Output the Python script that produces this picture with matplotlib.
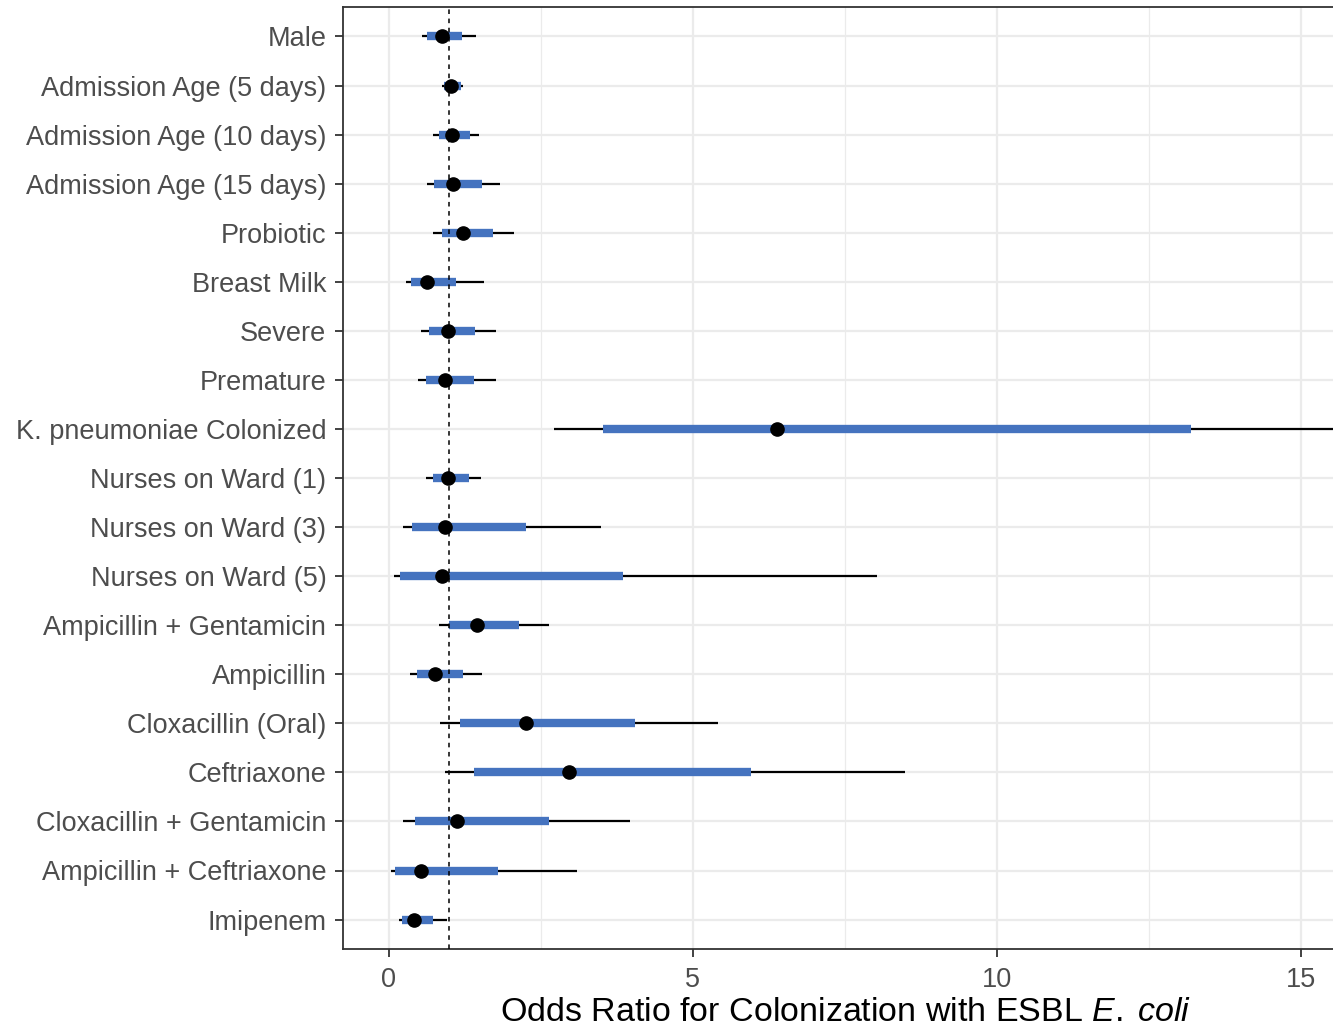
import matplotlib
matplotlib.use("Agg")
import matplotlib.pyplot as plt
from matplotlib.ticker import MultipleLocator

plt.rcParams['font.family'] = ['Liberation Sans', 'DejaVu Sans']
plt.rcParams['mathtext.fontset'] = 'custom'
plt.rcParams['mathtext.rm'] = 'Liberation Sans'
plt.rcParams['mathtext.it'] = 'Liberation Sans:italic'

categories = ["Male", "Admission Age (5 days)", "Admission Age (10 days)",
              "Admission Age (15 days)", "Probiotic", "Breast Milk", "Severe",
              "Premature", "K. pneumoniae Colonized", "Nurses on Ward (1)",
              "Nurses on Ward (3)", "Nurses on Ward (5)", "Ampicillin + Gentamicin",
              "Ampicillin", "Cloxacillin (Oral)", "Ceftriaxone",
              "Cloxacillin + Gentamicin", "Ampicillin + Ceftriaxone", "Imipenem"]
point = [0.87, 1.03, 1.04, 1.06, 1.22, 0.63, 0.98, 0.92, 6.38, 0.98,
         0.93, 0.88, 1.46, 0.77, 2.25, 2.96, 1.13, 0.54, 0.41]
inner_lo = [0.63, 0.91, 0.82, 0.75, 0.87, 0.37, 0.66, 0.61, 3.53, 0.73,
            0.38, 0.19, 1.00, 0.47, 1.18, 1.40, 0.44, 0.10, 0.22]
inner_hi = [1.20, 1.19, 1.33, 1.53, 1.72, 1.11, 1.42, 1.40, 13.19, 1.32,
            2.25, 3.85, 2.14, 1.23, 4.05, 5.95, 2.64, 1.80, 0.73]
outer_lo = [0.55, 0.87, 0.73, 0.63, 0.73, 0.29, 0.54, 0.48, 2.72, 0.62,
            0.23, 0.09, 0.82, 0.35, 0.84, 0.92, 0.24, 0.04, 0.17]
outer_hi = [1.44, 1.23, 1.49, 1.83, 2.06, 1.56, 1.77, 1.76, 25.0, 1.52,
            3.49, 8.02, 2.64, 1.54, 5.41, 8.48, 3.97, 3.10, 0.96]
ref_line = 1
xticks = [0, 5, 10, 15]

W, H = 1333, 1026
fig = plt.figure(figsize=(W / 100, H / 100), dpi=100)
left, right, top, bottom = 343, 1347, 7, 949
ax = fig.add_axes([left / W, 1 - bottom / H, (right - left) / W, (bottom - top) / H])

n = len(categories)
ys = list(range(n))[::-1]

ax.hlines(ys, outer_lo, outer_hi, color='black', lw=1.6, zorder=3)
ax.hlines(ys, inner_lo, inner_hi, color='#4573BF', lw=6, zorder=4)
ax.plot(point, ys, 'o', color='black', ms=9.5, zorder=5)
ax.axvline(ref_line, color='black', ls=(0, (3, 3)), lw=1.1, zorder=6)

ax.set_xlim(-0.75, 15.75)
ax.set_ylim(-0.6, n - 1 + 0.6)
ax.set_yticks(ys)
ax.set_yticklabels(categories)
ax.set_xticks(xticks)
ax.xaxis.set_minor_locator(MultipleLocator(2.5))

ax.grid(True, which='major', color='#EBEBEB', lw=1.6, zorder=0)
ax.grid(True, which='minor', axis='x', color='#EBEBEB', lw=0.9, zorder=0)
ax.set_axisbelow(True)
ax.tick_params(axis='both', which='major', length=6, width=1.3, color='#333333',
               labelsize=19.5, labelcolor='#4D4D4D')
ax.tick_params(axis='y', which='major', pad=6)
ax.tick_params(axis='x', which='major', pad=7)
ax.tick_params(axis='x', which='minor', length=0)
for s in ax.spines.values():
    s.set_color('#333333')
    s.set_linewidth(1.3)

ax.set_xlabel(r"Odds Ratio for Colonization with ESBL $\mathit{E.\;coli}$",
              fontsize=24.5, color='black', labelpad=3)

fig.savefig("out.png", dpi=100)
